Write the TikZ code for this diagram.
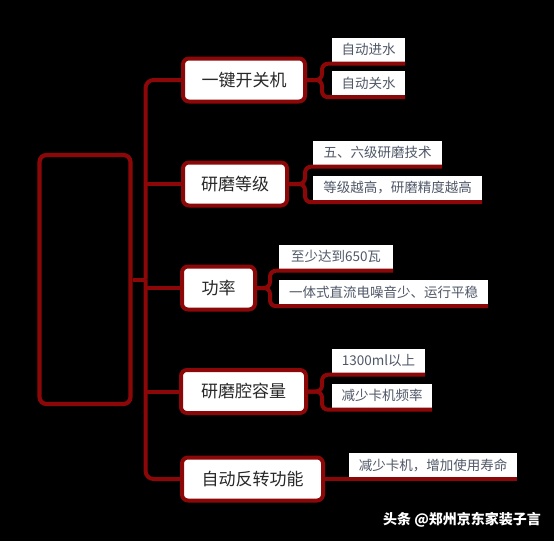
\documentclass[tikz,border=0pt]{standalone}
\usepackage{fontspec}
\newfontfamily\cjk{Noto Sans CJK SC}
\definecolor{dred}{RGB}{140,8,8}
\definecolor{leaftext}{RGB}{80,88,104}
\definecolor{maintext}{RGB}{40,40,40}
\begin{document}
\begin{tikzpicture}[x=1pt,y=-1pt,
  conn/.style={draw=dred, line width=4pt, rounded corners=7pt},
  mainbox/.style={draw=dred, line width=4pt, fill=white, rounded corners=6pt, minimum height=43pt, inner sep=0pt, font=\cjk\fontsize{17}{20}\selectfont, text=maintext},
  leafbox/.style={fill=white, inner sep=0pt, minimum height=24pt, font=\cjk\fontsize{13.5}{16}\selectfont, text=leaftext},
]
\fill[black] (0,0) rectangle (554,541);
\useasboundingbox (0,0) rectangle (554,541);

\node[draw=dred, line width=4.2pt, fill=black, rounded corners=7pt, minimum width=91pt, minimum height=249pt, inner sep=0pt] (root) at (85,279.5) {};

\node[mainbox, minimum width=122pt] (n1) at (244,80) {一键开关机};
\node[mainbox, minimum width=104pt] (n2) at (235,184) {研磨等级};
\node[mainbox, minimum width=73pt] (n3) at (218.5,288) {功率};
\node[mainbox, minimum width=125pt] (n4) at (243.5,391.5) {研磨腔容量};
\node[mainbox, minimum width=141pt] (n5) at (252.5,479) {自动反转功能};

\node[leafbox, minimum width=73pt] (l1a) at (368.5,49.5) {自动进水};
\node[leafbox, minimum width=73pt] (l1b) at (368.5,83) {自动关水};
\node[leafbox, minimum width=129pt] (l2a) at (377.5,152.5) {五、六级研磨技术};
\node[leafbox, minimum width=169pt] (l2b) at (397.5,188) {等级越高，研磨精度越高};
\node[leafbox, minimum width=114pt] (l3a) at (336,256.5) {至少达到650瓦};
\node[leafbox, minimum width=209pt] (l3b) at (383.5,292) {一体式直流电噪音少、运行平稳};
\node[leafbox, minimum width=93pt] (l4a) at (378.5,360.5) {1300ml以上};
\node[leafbox, minimum width=100pt] (l4b) at (382,395.5) {减少卡机频率};
\node[leafbox, minimum width=168pt] (l5) at (433,465) {减少卡机，增加使用寿命};

% spine
\coordinate (sp) at ([xshift=13pt]root.east);
\draw[conn] (root.east) -- (sp);
\draw[conn, rounded corners=8pt] (sp) |- (n1.west);
\draw[conn, rounded corners=8pt] (sp) |- (n5.west);
\draw[conn, sharp corners] (sp |- n2.west) -- (n2.west);
\draw[conn, sharp corners] (sp |- n3.west) -- (n3.west);
\draw[conn, sharp corners] (sp |- n4.west) -- (n4.west);

% brackets to leaves
\draw[conn, rounded corners=6pt] (n1.east) -- ++(15,0) |- ([yshift=-2pt]l1a.south east);
\draw[conn, rounded corners=6pt] (n1.east) -- ++(15,0) |- ([yshift=-2pt]l1b.south east);
\draw[conn, rounded corners=6pt] (n2.east) -- ++(16,0) |- ([yshift=-2pt]l2a.south east);
\draw[conn, rounded corners=6pt] (n2.east) -- ++(16,0) |- ([yshift=-2pt]l2b.south east);
\draw[conn, rounded corners=6pt] (n3.east) -- ++(13,0) |- ([yshift=-2pt]l3a.south east);
\draw[conn, rounded corners=6pt] (n3.east) -- ++(13,0) |- ([yshift=-2pt]l3b.south east);
\draw[conn, rounded corners=6pt] (n4.east) -- ++(14,0) |- ([yshift=-2pt]l4a.south east);
\draw[conn, rounded corners=6pt] (n4.east) -- ++(14,0) |- ([yshift=-2pt]l4b.south east);
\draw[conn, sharp corners] (n5.east) -- (n5.east -| l5.south east);

\node[font=\cjk\fontsize{14}{16}\selectfont\bfseries, text=white, inner sep=0pt] (wm) at (462,520) {头条 @郑州京东家装子言};
\end{tikzpicture}
\end{document}
